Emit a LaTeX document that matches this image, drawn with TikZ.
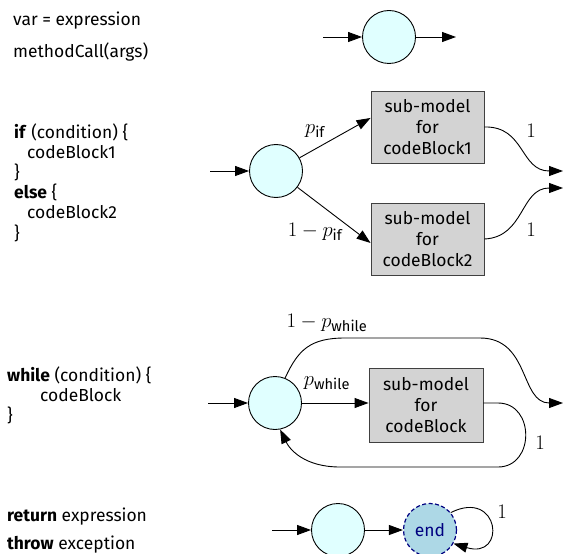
\documentclass[tikz,border=0pt]{standalone}
\usepackage{amsmath}
\usepackage{fontspec}
\setmainfont{Fira Sans}
\usetikzlibrary{arrows.meta}
\definecolor{lcyan}{HTML}{E0FFFF}
\definecolor{lgray}{HTML}{D3D3D3}
\definecolor{lblue}{HTML}{ADD8E6}
\definecolor{navyc}{HTML}{000080}
\tikzset{
  state/.style={circle,draw=black,fill=lcyan,line width=0.9bp,minimum size=53bp,inner sep=0pt},
  endstate/.style={circle,draw=navyc,fill=lblue,dash pattern=on 4bp off 2.5bp,line width=1.2bp,minimum size=53bp,inner sep=0pt,text=navyc,font=\fontsize{17.5}{20}\selectfont},
  subbox/.style={rectangle,draw=black!75,fill=lgray,line width=0.9bp,minimum width=113bp,minimum height=72bp,inner sep=0pt,align=center,font=\fontsize{17.5}{21.5}\selectfont},
  edge/.style={line width=0.9bp,-{Triangle[length=14bp,width=10bp]}},
  code/.style={anchor=base west,inner sep=0pt,font=\fontsize{17.5}{20}\selectfont},
  lab/.style={inner sep=0pt,font=\fontsize{21}{24}\selectfont},
}
\begin{document}
\begin{tikzpicture}[x=1bp,y=-1bp]
\useasboundingbox (0,0) rectangle (563,554);
% left code texts
\node[code] (t1) at (13,26) {var = expression};
\node[code] (t2) at (13,58) {methodCall(args)};
\node[code] (i1) at (14,139) {\textbf{if} (condition) \{};
\node[code] (i2) at (27,159) {codeBlock1};
\node[code] (i3) at (14,179) {\}};
\node[code] (i4) at (14,199) {\textbf{else} \{};
\node[code] (i5) at (27,219) {codeBlock2};
\node[code] (i6) at (14,239) {\}};
\node[code] (w1) at (7,381) {\textbf{while} (condition) \{};
\node[code] (w2) at (40,401) {codeBlock};
\node[code] (w3) at (7,421) {\}};
\node[code] (r1) at (7,521) {\textbf{return} expression};
\node[code] (r2) at (7,549) {\textbf{throw} exception};

% row 1
\coordinate (a0) at (323,37);
\node[state] (a1) at (389,37) {};
\coordinate (a2) at (456,37);
\draw[edge] (a0) -- (a1);
\draw[edge] (a1) -- (a2);

% if
\coordinate (b0) at (210,171);
\node[state] (b1) at (276,171) {};
\node[subbox] (bx1) at (427.5,127) {sub-model\\for\\codeBlock1};
\node[subbox] (bx2) at (427.5,239) {sub-model\\for\\codeBlock2};
\coordinate (bm1) at (563,171);
\coordinate (bm2) at (563,188);
\draw[edge] (b0) -- (b1);
\draw[edge] (b1) -- (bx1.171);
\draw[edge] (b1) -- (bx2.184);
\draw[edge] (bx1.east) .. controls (525,126) and (520,171) .. (bm1);
\draw[edge] (bx2.east) .. controls (525,237) and (520,188) .. (bm2);
\node[lab] (lb1) at (315,131) {$p_{\text{if}}$};
\node[lab] (lb2) at (315,232) {$1-p_{\text{if}}$};
\node[lab] (lb3) at (531,131) {$1$};
\node[lab] (lb4) at (531,230) {$1$};

% while
\coordinate (c0) at (208,403);
\node[state] (c1) at (275,403) {};
\node[subbox,minimum width=114bp,minimum height=74bp] (cx) at (426,405) {sub-model\\for\\codeBlock};
\coordinate (cw) at (563,403);
\draw[edge] (c0) -- (c1);
\draw[edge] (c1) -- (c1 -| cx.west);
\draw[edge] (c1.68) .. controls (298,350) and (310,338) .. (345,338) -- (480,338) .. controls (530,338) and (520,403) .. (cw);
\draw[edge] (cx.east |- c1) -- (498,403) .. controls (535,403) and (535,467) .. (498,467) -- (340,467) .. controls (305,467) and (290,450) .. (c1.281);
\node[lab] (lc1) at (327,323) {$1-p_{\text{while}}$};
\node[lab] (lc2) at (327,383) {$p_{\text{while}}$};
\node[lab] (lc3) at (540,443) {$1$};

% return / throw
\coordinate (d0) at (272,530);
\node[state] (d1) at (338,530) {};
\node[endstate] (d2) at (430,530) {end};
\draw[edge] (d0) -- (d1);
\draw[edge] (d1) -- (d2);
\draw[edge] (d2.40) .. controls (500,488) and (507,560) .. (d2.330);
\node[lab] (ld1) at (502,512) {$1$};
\end{tikzpicture}
\end{document}
